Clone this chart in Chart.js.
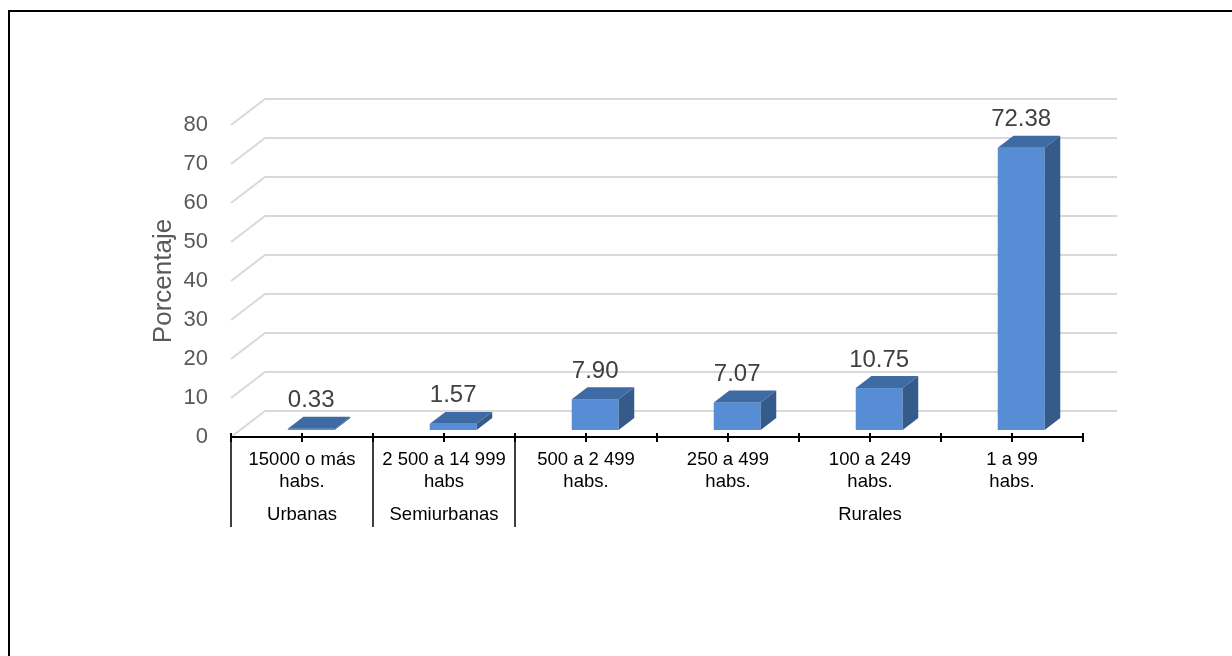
<!DOCTYPE html>
<html>
<head>
<meta charset="utf-8">
<script src="https://cdn.jsdelivr.net/npm/chart.js@4.4.0/dist/chart.umd.min.js"></script>
<style>
  body { margin: 0; background: #fff; }
  #frame { position: absolute; left: 8px; top: 10px; right: 0; bottom: 0; border-left: 2px solid #000; border-top: 2px solid #000; }
  canvas { position: absolute; left: 0; top: 0; }
</style>
</head>
<body>
<div id="frame"></div>
<canvas id="myChart" width="1232" height="656"></canvas>
<script>
const categories = [
  ["15000 o más", "habs."],
  ["2 500 a 14 999", "habs"],
  ["500 a 2 499", "habs."],
  ["250 a 499", "habs."],
  ["100 a 249", "habs."],
  ["1 a 99", "habs."],
];
const values = [0.33, 1.57, 7.9, 7.07, 10.75, 72.38];
const groupNames = ["Urbanas", "Semiurbanas", "Rurales"];
const groupFirst = [0, 1, 2];
const groupLabelAt = [0, 1, 4];
const yMin = 0;
const yMax = 80;
const yStep = 10;

const font = "'Liberation Sans', Arial, sans-serif";
const depthX = 34;
const depthY = -26;
const front = 0.27;
const back = 0.73;

// back wall grid + 3d bars + axis/group labels
const box3d = {
  id: "box3d",
  beforeDatasetsDraw(chart) {
    const { ctx, chartArea, scales } = chart;
    ctx.save();
    ctx.strokeStyle = "#d9d9d9";
    ctx.lineWidth = 2;
    scales.y.ticks.forEach((t) => {
      const py = scales.y.getPixelForValue(t.value);
      ctx.beginPath();
      ctx.moveTo(chartArea.left, py);
      ctx.lineTo(chartArea.left + depthX, py + depthY);
      ctx.lineTo(chartArea.right + depthX, py + depthY);
      ctx.stroke();
    });
    ctx.restore();
  },
  afterDatasetsDraw(chart) {
    const { ctx } = chart;
    const meta = chart.getDatasetMeta(0);
    const dx = depthX * (back - front);
    const dy = depthY * (back - front);
    ctx.save();
    meta.data.forEach((bar, i) => {
      const left = bar.x - bar.width / 2 + depthX * front;
      const right = left + bar.width;
      const top = bar.y + depthY * front;
      const bottom = bar.base + depthY * front;

      ctx.fillStyle = "#568dd4";
      ctx.fillRect(left, top, bar.width, bottom - top);

      ctx.fillStyle = "#3f6ba4";
      ctx.beginPath();
      ctx.moveTo(left, top);
      ctx.lineTo(left + dx, top + dy);
      ctx.lineTo(right + dx, top + dy);
      ctx.lineTo(right, top);
      ctx.closePath();
      ctx.fill();

      ctx.fillStyle = "#355b8b";
      ctx.beginPath();
      ctx.moveTo(right, top);
      ctx.lineTo(right + dx, top + dy);
      ctx.lineTo(right + dx, bottom + dy);
      ctx.lineTo(right, bottom);
      ctx.closePath();
      ctx.fill();

      ctx.fillStyle = "#404040";
      ctx.font = "24px " + font;
      ctx.textAlign = "center";
      ctx.textBaseline = "middle";
      ctx.fillText(values[i].toFixed(2), left + bar.width / 2, top - 28);
    });
    ctx.restore();
  },
  afterDraw(chart) {
    const { ctx, chartArea, scales } = chart;
    const x = scales.x;
    const axisY = chartArea.bottom;
    const half = (x.getPixelForValue(1) - x.getPixelForValue(0)) / 2;
    ctx.save();
    ctx.strokeStyle = "#000";
    ctx.lineWidth = 2;
    ctx.beginPath();
    ctx.moveTo(chartArea.left, axisY);
    ctx.lineTo(chartArea.right, axisY);
    for (let i = 0; i <= categories.length * 2; i++) {
      const px = chartArea.left + i * half;
      ctx.moveTo(px, axisY - 4);
      ctx.lineTo(px, axisY + 5);
    }
    ctx.stroke();

    ctx.lineWidth = 1.5;
    ctx.beginPath();
    groupFirst.forEach((g) => {
      const px = x.getPixelForValue(g) - half;
      ctx.moveTo(px, axisY);
      ctx.lineTo(px, axisY + 90);
    });
    ctx.stroke();

    ctx.fillStyle = "#000";
    ctx.font = "18.5px " + font;
    ctx.textAlign = "center";
    ctx.textBaseline = "middle";
    groupNames.forEach((name, i) => {
      ctx.fillText(name, x.getPixelForValue(groupLabelAt[i]), axisY + 78);
    });
    ctx.restore();
  },
};

const data = {
  labels: categories,
  datasets: [
    {
      data: values,
      backgroundColor: "rgba(0,0,0,0)",
      categoryPercentage: 1,
      barPercentage: 0.33,
    },
  ],
};

const config = {
  type: "bar",
  data: data,
  options: {
    responsive: false,
    animation: false,
    devicePixelRatio: 1,
    layout: { padding: { top: 125, left: 144, right: 149, bottom: 0 } },
    plugins: { legend: { display: false }, tooltip: { enabled: false } },
    scales: {
      x: {
        grid: { display: false, drawTicks: false },
        border: { display: false },
        ticks: {
          color: "#000",
          font: { family: font, size: 18.5 },
          padding: 12,
          maxRotation: 0,
          autoSkip: false,
        },
        afterFit: (scale) => {
          scale.height = 219;
        },
      },
      y: {
        min: yMin,
        max: yMax,
        grid: { display: false, drawTicks: false },
        border: { display: false },
        ticks: {
          stepSize: yStep,
          color: "#595959",
          font: { family: font, size: 22 },
          padding: 23,
        },
        title: {
          display: true,
          text: "Porcentaje",
          color: "#595959",
          font: { family: font, size: 26 },
          padding: 4,
        },
        afterFit: (scale) => {
          scale.width = 87;
        },
      },
    },
  },
  plugins: [box3d],
};

const chartOne = new Chart(document.getElementById("myChart"), config);
</script>
</body>
</html>
